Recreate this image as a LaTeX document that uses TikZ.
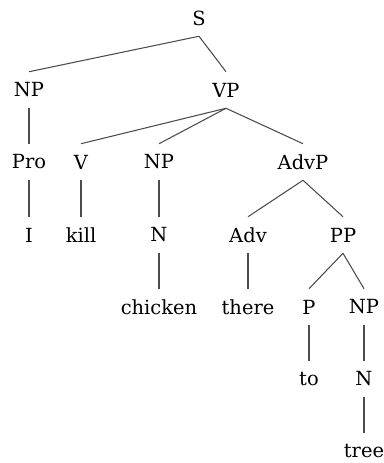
\documentclass[tikz,border=0pt]{standalone}
\usepackage{fontspec}
\setmainfont{DejaVu Serif}
\usepackage{tikz}

\begin{document}
\begin{tikzpicture}[x=0.75pt,y=-0.75pt,
  tag/.style={inner sep=0pt,minimum height=27pt,font=\fontsize{14.6}{16}\selectfont},
  branch/.style={draw=black!70,line width=0.8pt}]
\useasboundingbox (0,0) rectangle (384,463);
% labels, one row per level
\node[tag] (s) at (199,18) {S};
\node[tag] (np1) at (29,90) {NP};
\node[tag] (vp) at (226,90) {VP};
\node[tag] (pro) at (29,162) {Pro};
\node[tag] (v) at (81,162) {V};
\node[tag] (np2) at (159,162) {NP};
\node[tag] (advp) at (303,162) {AdvP};
\node[tag] (i) at (29,235) {I};
\node[tag] (kill) at (81,235) {kill};
\node[tag] (n1) at (159,235) {N};
\node[tag] (adv) at (248,235) {Adv};
\node[tag] (pp) at (343,235) {PP};
\node[tag] (chicken) at (159,307) {chicken};
\node[tag] (there) at (248,307) {there};
\node[tag] (p) at (309,307) {P};
\node[tag] (np3) at (364,307) {NP};
\node[tag] (to) at (309,379) {to};
\node[tag] (n2) at (364,379) {N};
\node[tag] (tree) at (364,451) {tree};
% branches
\draw[branch] (s.south) -- (np1.north);
\draw[branch] (s.south) -- (vp.north);
\draw[branch] (np1.south) -- (pro.north);
\draw[branch] (vp.south) -- (v.north);
\draw[branch] (vp.south) -- (np2.north);
\draw[branch] (vp.south) -- (advp.north);
\draw[branch] (pro.south) -- (i.north);
\draw[branch] (v.south) -- (kill.north);
\draw[branch] (np2.south) -- (n1.north);
\draw[branch] (advp.south) -- (adv.north);
\draw[branch] (advp.south) -- (pp.north);
\draw[branch] (n1.south) -- (chicken.north);
\draw[branch] (adv.south) -- (there.north);
\draw[branch] (pp.south) -- (p.north);
\draw[branch] (pp.south) -- (np3.north);
\draw[branch] (p.south) -- (to.north);
\draw[branch] (np3.south) -- (n2.north);
\draw[branch] (n2.south) -- (tree.north);
\end{tikzpicture}
\end{document}
